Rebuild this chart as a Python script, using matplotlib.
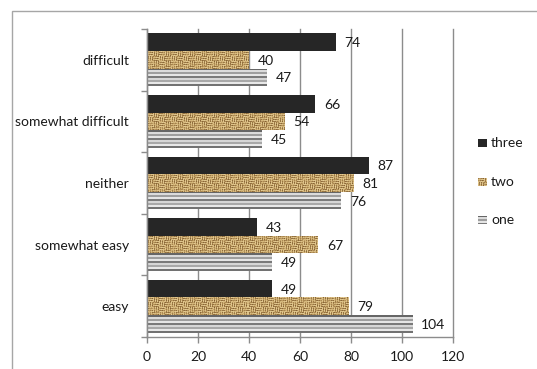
import numpy as np
import matplotlib
matplotlib.use("Agg")
import matplotlib.pyplot as plt
from matplotlib.patches import Rectangle

# ---- data -------------------------------------------------------------
categories = ["difficult", "somewhat difficult", "neither", "somewhat easy", "easy"]
series_names = ["three", "two", "one"]
three = [74, 66, 87, 43, 49]
two = [40, 54, 81, 67, 79]
one = [47, 45, 76, 49, 104]
x_ticks = [0, 20, 40, 60, 80, 100, 120]

plt.rcParams["font.family"] = ["Lato", "DejaVu Sans"]
TEXT = "#1a1a1a"
GRID = "#8c8c8c"
FS = 10

W, H, DPI = 537, 369, 100
fig = plt.figure(figsize=(W / DPI, H / DPI), dpi=DPI)
fig.patch.set_facecolor("white")

# outer chart frame
fig.add_artist(Rectangle((12 / W, -0.1), 1.2, 1 - 11 / H + 0.1,
                         transform=fig.transFigure, fill=False,
                         edgecolor="#a6a6a6", linewidth=1.0, clip_on=False))

ax_l, ax_r, ax_t, ax_b = 147, 453, 29, 337
ax = fig.add_axes([ax_l / W, 1 - ax_b / H, (ax_r - ax_l) / W, (ax_b - ax_t) / H])

XMAX = 120
n = len(categories)
px_per_x = (ax_r - ax_l) / XMAX
px_per_y = (ax_b - ax_t) / n
bar_h = 0.285


# ---- textures ---------------------------------------------------------
def stripe_texture(hp, wp):
    bands = np.array([0.40, 0.86, 0.62, 0.90, 0.48, 0.84, 0.66, 0.91, 0.45])
    col = np.resize(np.repeat(bands, 2), hp)
    img = np.repeat(col[:, None], wp, axis=1)
    return np.dstack([img, img, img])


def weave_texture(hp, wp):
    yy, xx = np.mgrid[0:hp, 0:wp]
    bx, by = xx // 6, yy // 5
    horiz = (bx + by) % 2 == 0
    phase = np.where(horiz, yy % 2, xx % 2)
    mod = 0.5 + 0.5 * np.sin(xx * 1.7 + yy * 2.3) * np.cos(xx * 0.9 - yy * 1.3)
    light = np.array([0.93, 0.85, 0.64])
    dark = np.array([0.52, 0.38, 0.20])
    mid = np.array([0.80, 0.67, 0.43])
    t = np.where(phase == 0, 0.10 + 0.40 * mod, 0.55 + 0.45 * mod)[..., None]
    img = np.where(t < 0.5, light * (1 - 2 * t) + mid * (2 * t),
                   mid * (2 - 2 * t) + dark * (2 * t - 1))
    return np.clip(img, 0, 1)


series = [three, two, one]
styles = ["solid", "weave", "stripe"]
offsets = [bar_h, 0.0, -bar_h]

centers = np.arange(n)[::-1].astype(float)  # first category at top

ax.set_axisbelow(True)
for vals, style, off in zip(series, styles, offsets):
    ys = centers + off
    if style == "solid":
        bars = ax.barh(ys, vals, height=bar_h, color="#262626", zorder=2)
    else:
        bars = ax.barh(ys, vals, height=bar_h, color="none", zorder=2)
        for b, v, y in zip(bars, vals, ys):
            hp = int(round(bar_h * px_per_y))
            wp = max(1, int(round(v * px_per_x)))
            tex = weave_texture(hp, wp) if style == "weave" else stripe_texture(hp, wp)
            im = ax.imshow(tex, extent=(0, v, y - bar_h / 2, y + bar_h / 2),
                           aspect="auto", interpolation="nearest", zorder=2,
                           origin="upper")
            im.set_clip_path(b)
    for v, y in zip(vals, ys):
        ax.annotate(str(v), xy=(v, y), xytext=(9, -1), textcoords="offset pixels",
                    ha="left", va="center", fontsize=FS, color=TEXT,
                    annotation_clip=False)

ax.set_xlim(0, XMAX)
ax.set_ylim(-0.5, n - 0.5)
ax.set_xticks(x_ticks)
ax.set_xticklabels([str(t) for t in x_ticks])
ax.set_yticks(centers)
ax.set_yticklabels(categories)
ax.set_yticks(np.arange(n + 1) - 0.5, minor=True)

ax.grid(axis="x", color=GRID, linewidth=1.0)
ax.grid(axis="y", visible=False)
for gl in ax.get_xgridlines():
    gl.set_clip_on(False)
for s in ["top", "right"]:
    ax.spines[s].set_visible(False)
for s in ["left", "bottom"]:
    ax.spines[s].set_color(GRID)
    ax.spines[s].set_linewidth(1.0)

ax.tick_params(axis="x", direction="out", length=4, color=GRID, width=1.0,
               labelsize=FS, labelcolor=TEXT, pad=6)
ax.tick_params(axis="y", which="major", length=0, labelsize=FS,
               labelcolor=TEXT, pad=13)
ax.tick_params(axis="y", which="minor", direction="out", length=4,
               color=GRID, width=1.0)

# ---- legend -----------------------------------------------------------
legend_rows = [(143, "solid"), (182, "weave"), (220, "stripe")]
for (yc, style), name in zip(legend_rows, series_names):
    size = 9
    lax = fig.add_axes([478 / W, 1 - (yc + size / 2) / H, size / W, size / H])
    if style == "solid":
        img = np.tile(np.array([0.15, 0.15, 0.15]), (size, size, 1))
    elif style == "weave":
        img = weave_texture(size, size)
    else:
        img = stripe_texture(size, size)
    lax.imshow(img, aspect="auto", interpolation="nearest")
    lax.set_axis_off()
    fig.text(491 / W, 1 - yc / H, name, ha="left", va="center",
             fontsize=FS, color=TEXT)

fig.savefig("out.png", dpi=DPI, facecolor="white")
